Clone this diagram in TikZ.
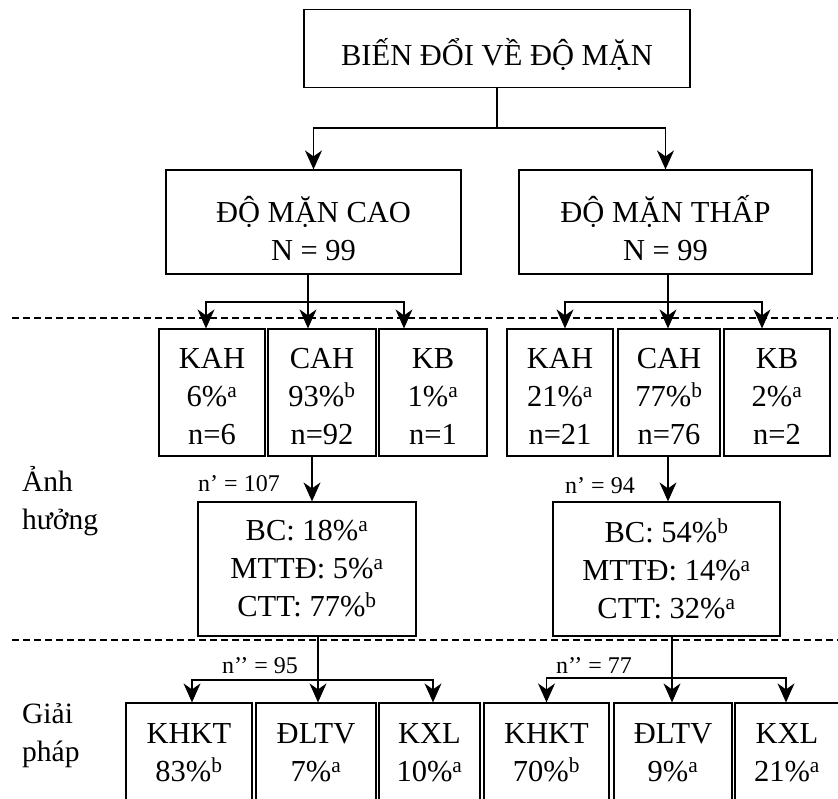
\documentclass[tikz,border=0pt]{standalone}
\usepackage{fontspec}
\setmainfont{Liberation Serif}
\usetikzlibrary{arrows.meta,calc}

\tikzset{
  hop/.style={draw, line width=1.2pt, align=center, inner sep=0pt, font=\fontsize{30.5}{38}\selectfont},
  nhan/.style={inner sep=0pt, font=\fontsize{24}{28}\selectfont},
  muc/.style={inner sep=0pt, align=left, anchor=west, font=\fontsize{29.5}{38}\selectfont},
  ke/.style={line width=1.2pt},
  mui/.style={line width=1.2pt, -{Stealth[length=19pt,width=17pt,inset=6pt]}},
  gach/.style={line width=1.2pt, dash pattern=on 7pt off 4pt}
}

\begin{document}
\begin{tikzpicture}[x=1pt,y=-1pt]
\useasboundingbox (0,0) rectangle (838,798);

\node[hop, minimum width=386pt, minimum height=78pt] (goc) at (497,48.5) {\rule{0pt}{40pt}BIẾN ĐỔI VỀ ĐỘ MẶN};
\node[hop, minimum width=295pt, minimum height=104pt] (cao) at (313.5,222) {\rule{0pt}{40pt}ĐỘ MẶN CAO\\N = 99};
\node[hop, minimum width=293pt, minimum height=104pt] (thap) at (665.5,222) {\rule{0pt}{40pt}ĐỘ MẶN THẤP\\N = 99};

\node[hop, minimum width=106pt, minimum height=127pt] (kah1) at (212,392.5) {\rule{0pt}{28pt}KAH\\6\%\textsuperscript{a}\\n=6};
\node[hop, minimum width=108pt, minimum height=127pt] (cah1) at (322,392.5) {\rule{0pt}{28pt}CAH\\93\%\textsuperscript{b}\\n=92};
\node[hop, minimum width=108pt, minimum height=127pt] (kb1) at (433,392.5) {\rule{0pt}{28pt}KB\\1\%\textsuperscript{a}\\n=1};
\node[hop, minimum width=106pt, minimum height=127pt] (kah2) at (560,392.5) {\rule{0pt}{28pt}KAH\\21\%\textsuperscript{a}\\n=21};
\node[hop, minimum width=102pt, minimum height=127pt] (cah2) at (669,392.5) {\rule{0pt}{28pt}CAH\\77\%\textsuperscript{b}\\n=76};
\node[hop, minimum width=106pt, minimum height=127pt] (kb2) at (777,392.5) {\rule{0pt}{28pt}KB\\2\%\textsuperscript{a}\\n=2};

\node[hop, minimum width=218pt, minimum height=134pt] (ah1) at (307,569) {BC: 18\%\textsuperscript{a}\\MTTĐ: 5\%\textsuperscript{a}\\CTT: 77\%\textsuperscript{b}};
\node[hop, minimum width=227pt, minimum height=134pt] (ah2) at (666.5,569) {BC: 54\%\textsuperscript{b}\\MTTĐ: 14\%\textsuperscript{a}\\CTT: 32\%\textsuperscript{a}};

\node[hop, minimum width=126pt, minimum height=100pt] (khkt1) at (189,753) {KHKT\\83\%\textsuperscript{b}};
\node[hop, minimum width=120pt, minimum height=100pt] (dltv1) at (316,753) {ĐLTV\\7\%\textsuperscript{a}};
\node[hop, minimum width=101pt, minimum height=100pt] (kxl1) at (429.5,753) {KXL\\10\%\textsuperscript{a}};
\node[hop, minimum width=125pt, minimum height=100pt] (khkt2) at (546.5,753) {KHKT\\70\%\textsuperscript{b}};
\node[hop, minimum width=118pt, minimum height=100pt] (dltv2) at (673,753) {ĐLTV\\9\%\textsuperscript{a}};
\node[hop, minimum width=104pt, minimum height=100pt] (kxl2) at (787,753) {KXL\\21\%\textsuperscript{a}};

\node[nhan] (n1) at (239,484) {n’ = 107};
\node[nhan] (n2) at (600,485.5) {n’ = 94};
\node[nhan] (n3) at (260,665.5) {n’’ = 95};
\node[nhan] (n4) at (594,665.5) {n’’ = 77};

\node[muc] (anh) at (22,501.5) {Ảnh\\hưởng};
\node[muc] (giai) at (22,735.5) {Giải\\pháp};

\draw[gach] (12,318) -- (838,318);
\draw[gach] (12,640) -- (838,640);

\coordinate (r0) at (497,128);
\draw[ke] (goc.south) -- (r0);
\draw[mui] (r0) -| (cao.north);
\draw[mui] (r0) -| (thap.north);

\coordinate (r1) at (308,302);
\draw[ke] (cao.south -| r1) -- (r1);
\draw[mui] (r1) -| (kah1.north -| 206,0);
\draw[mui] (r1) -- (cah1.north -| r1);
\draw[mui] (r1) -| (kb1.north -| 404,0);

\coordinate (r2) at (668,302);
\draw[ke] (thap.south -| r2) -- (r2);
\draw[mui] (r2) -| (kah2.north -| 565,0);
\draw[mui] (r2) -- (cah2.north -| r2);
\draw[mui] (r2) -| (kb2.north -| 762,0);

\draw[mui] (cah1.south -| 312,0) -- (ah1.north -| 312,0);
\draw[mui] (cah2.south -| 668,0) -- (ah2.north -| 668,0);

\coordinate (r3) at (318,680);
\draw[ke] (ah1.south -| r3) -- (r3);
\draw[mui] (r3) -| (khkt1.north -| 192,0);
\draw[mui] (r3) -- (dltv1.north -| r3);
\draw[mui] (r3) -| (kxl1.north -| 433,0);

\coordinate (r4) at (672,678);
\draw[ke] (ah2.south -| r4) -- (r4);
\draw[mui] (r4) -| (khkt2.north);
\draw[mui] (r4) -- (dltv2.north -| r4);
\draw[mui] (r4) -| (kxl2.north -| 786,0);
\end{tikzpicture}
\end{document}
